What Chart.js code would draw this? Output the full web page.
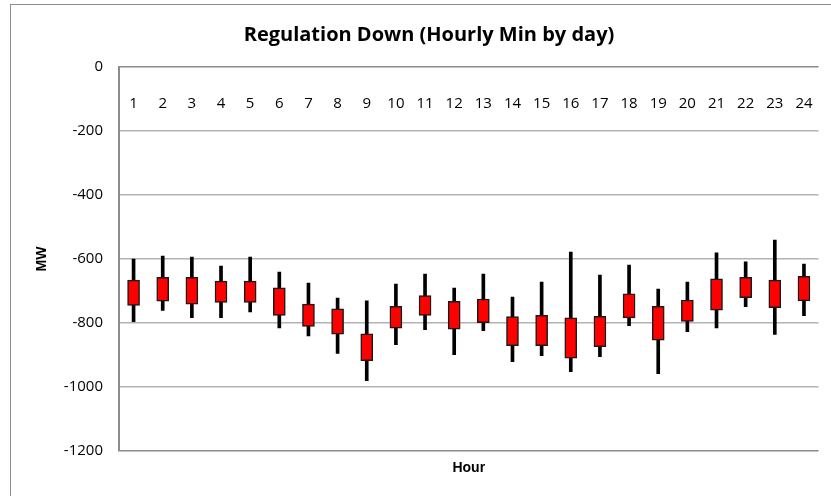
<!DOCTYPE html>
<html>
<head>
<meta charset="utf-8">
<script src="https://cdn.jsdelivr.net/npm/chart.js@4"></script>
<style>
  html, body { margin: 0; padding: 0; background: #fff; overflow: hidden; }
  #frame {
    position: absolute; left: 10px; top: 4px;
    width: 830px; height: 500px;
    border: 1px solid #8c8c8c;
  }
  #frame canvas { display: block; }
</style>
</head>
<body>
<div id="frame"><canvas id="myChart" width="830" height="500"></canvas></div>
<script>
// hours on the category axis
var hours = ['1','2','3','4','5','6','7','8','9','10','11','12','13','14','15','16','17','18','19','20','21','22','23','24'];
// whisker ends (MW)
var highs = [-600,-591,-594,-622,-594,-641,-675,-722,-731,-678,-647,-691,-647,-719,-672,-578,-650,-619,-694,-672,-581,-609,-541,-616];
var lows  = [-796,-761,-783,-783,-765,-815,-840,-895,-980,-868,-821,-899,-824,-921,-902,-952,-905,-808,-958,-827,-815,-749,-836,-777];
// box ends (MW)
var boxTop    = [-666,-657,-657,-669,-669,-690,-741,-756,-834,-748,-714,-732,-725,-780,-776,-784,-779,-709,-748,-728,-662,-657,-666,-654];
var boxBottom = [-745,-732,-741,-736,-736,-776,-811,-835,-918,-816,-776,-819,-799,-871,-871,-910,-874,-784,-854,-795,-760,-721,-752,-731];
// value axis ticks
var yTicks = [-1200,-1000,-800,-600,-400,-200,0];

var boxes = hours.map(function(h, i) { return [boxBottom[i], boxTop[i]]; });
var wicks = hours.map(function(h, i) { return [lows[i], highs[i]]; });

var tickFont = { family: 'Open Sans', size: 15 };

var ctx = document.getElementById('myChart').getContext('2d');
var myChart = new Chart(ctx, {
    type: 'bar',
    data: {
        labels: hours,
        datasets: [{
            label: 'box',
            data: boxes,
            grouped: false,
            barThickness: 12,
            backgroundColor: '#ff0000',
            borderColor: '#1a1a1a',
            borderWidth: 1.5,
            borderSkipped: false,
            order: 0
        }, {
            label: 'range',
            data: wicks,
            grouped: false,
            barThickness: 3,
            backgroundColor: '#000000',
            borderWidth: 0,
            order: 1
        }]
    },
    options: {
        responsive: false,
        animation: false,
        layout: { padding: { left: 19, right: 13, top: 0, bottom: 24 } },
        plugins: {
            legend: { display: false },
            tooltip: { enabled: false },
            title: {
                display: true,
                text: 'Regulation Down (Hourly Min by day)',
                color: '#000',
                font: { family: 'Open Sans', size: 20, weight: 'bold' },
                padding: { top: 18, bottom: 20 }
            }
        },
        scales: {
            x: {
                type: 'category',
                position: { y: 0 },
                grid: { display: false, drawTicks: false },
                border: { display: false },
                ticks: { color: '#000', font: tickFont, padding: 28, maxRotation: 0, autoSkip: false }
            },
            x2: {
                type: 'category',
                labels: hours,
                position: 'bottom',
                grid: { display: false, drawTicks: false },
                border: { display: false },
                ticks: { display: false },
                title: {
                    display: true,
                    text: 'Hour',
                    color: '#000',
                    font: { family: 'Liberation Sans', size: 14, weight: 'bold' },
                    padding: { top: 4, bottom: 4 }
                },
                afterFit: function(scale) { scale.height = 30; }
            },
            y: {
                min: -1200,
                max: 0,
                afterBuildTicks: function(scale) {
                    scale.ticks = yTicks.map(function(v) { return { value: v }; });
                },
                grid: {
                    drawTicks: false,
                    lineWidth: 1.5,
                    color: function(c) {
                        return (c.tick && (c.tick.value === 0 || c.tick.value === -1200)) ? '#8c8c8c' : '#b3b3b3';
                    }
                },
                border: { display: true, color: '#8c8c8c', width: 2 },
                ticks: {
                    color: '#000',
                    font: tickFont,
                    padding: 16,
                    callback: function(value) { return String(value); }
                },
                title: {
                    display: true,
                    text: 'MW',
                    color: '#000',
                    font: { family: 'Liberation Sans', size: 14, weight: 'bold' },
                    padding: { top: 4, bottom: 4 }
                },
                afterFit: function(scale) { scale.width = 89; }
            }
        }
    }
});
</script>
</body>
</html>
